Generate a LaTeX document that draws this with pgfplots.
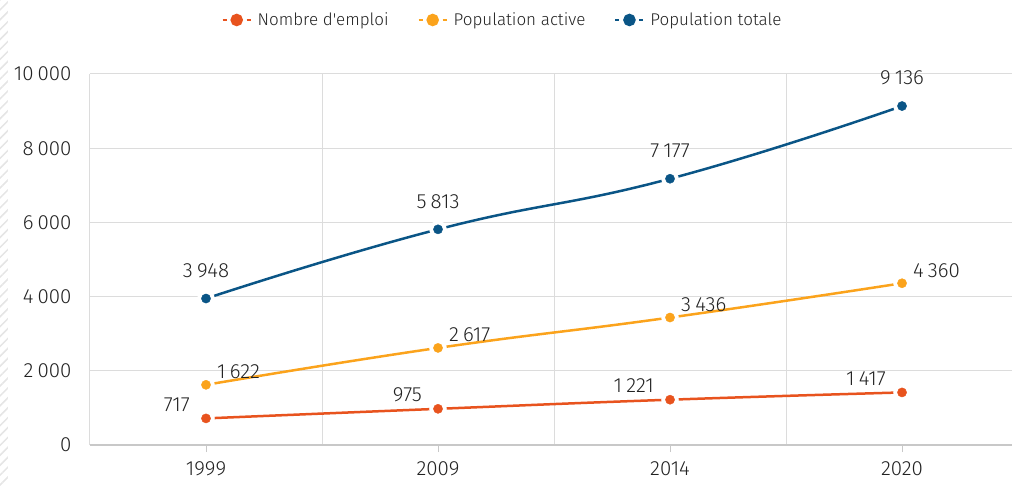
\documentclass[border=0pt]{standalone}
\usepackage{fontspec}
\setmainfont{Fira Sans Light}
\newfontfamily\plainfont{Fira Sans Light}[Ligatures=TeXOff]
\usepackage{pgfplots}
\usepackage{pgfplotstable}
\pgfplotsset{compat=1.18}
\usetikzlibrary{patterns.meta}
\definecolor{cEmp}{HTML}{E8531E}
\definecolor{cAct}{HTML}{FBA31C}
\definecolor{cTot}{HTML}{0A5586}
\definecolor{cGrid}{HTML}{DCDCDC}
\definecolor{cAxis}{HTML}{C8C8C8}
\definecolor{cText}{HTML}{222222}
\pgfplotstableread{
x emp act tot
0 717 1622 3948
1 975 2617 5813
2 1221 3436 7177
3 1417 4360 9136
}\datatab
\begin{document}
\begin{tikzpicture}
\useasboundingbox (-90pt,-40pt) rectangle (922pt,445pt);
\fill[pattern={Lines[angle=45,distance=7pt,line width=1.5pt]},pattern color=black!10] (-90pt,-40pt) rectangle (-82pt,445pt);
\begin{axis}[
  at={(0,0)}, anchor=south west,
  scale only axis, width=922pt, height=371pt,
  xmin=-0.5, xmax=3.474, ymin=0, ymax=10000,
  axis x line=bottom, axis y line=left,
  x axis line style={draw=cAxis, line width=1.2pt, -},
  y axis line style={draw=none, -},
  xtick={0,1,2,3}, xticklabels={1999,2009,2014,2020},
  minor xtick={-0.5,0.5,1.5,2.5},
  xminorgrids, minor grid style={draw=cGrid, line width=1pt},
  ytick={0,2000,4000,6000,8000,10000},
  scaled y ticks=false,
  ymajorgrids, major grid style={draw=cGrid, line width=1pt},
  tick align=outside,
  major tick length=7pt, minor tick length=0pt,
  xtick style={draw=cAxis, line width=1pt},
  ytick style={draw=none},
  /pgf/number format/assume math mode=true,
  /pgf/number format/1000 sep={\hspace{0.2em}},
  tick label style={font=\fontsize{20.5}{22}\selectfont, text=cText},
  xticklabel style={yshift=-6pt},
  yticklabel style={xshift=-8pt},
  yticklabel={\pgfmathprintnumber[assume math mode=true]{\tick}},
  clip=false,
  legend style={at={(0.4475,1.1456)}, anchor=center, draw=none, fill=none,
    font=\fontsize{17}{19}\selectfont, text=cText,
    legend columns=3,
    /tikz/every odd column/.append style={column sep=4pt},
    /tikz/every even column/.append style={column sep=27pt}},
  legend image code/.code={
    \draw[#1, mark=none, line width=2pt] (0pt,0pt) -- (4pt,0pt);
    \draw[#1, mark=none, line width=2pt] (24pt,0pt) -- (28pt,0pt);
    \fill[#1] (14pt,0pt) circle (5pt);
  },
  lineplot/.style={line width=2.5pt, smooth, tension=0.8, mark=none},
  halo/.style={white, only marks, mark=*, mark size=8.5pt, mark options={fill=white, draw=none}, forget plot},
  dots/.style={#1, only marks, mark=*, mark size=4.6pt, mark options={fill=#1, draw=none}, forget plot,
    nodes near coords={\pgfmathprintnumber[assume math mode=true]{\pgfplotspointmeta}},
    every node near coord/.append style={font=\fontsize{20.5}{22}\selectfont, text=cText, inner sep=0pt}},
]
\addplot[cEmp, lineplot] table[x=x, y=emp] {\datatab};
\addlegendentry{{\plainfont Nombre d'emploi}}
\addplot[cAct, lineplot] table[x=x, y=act] {\datatab};
\addlegendentry{Population active}
\addplot[cTot, lineplot] table[x=x, y=tot] {\datatab};
\addlegendentry{Population totale}
\addplot[halo] table[x=x, y=emp] {\datatab};
\addplot[halo] table[x=x, y=act] {\datatab};
\addplot[halo] table[x=x, y=tot] {\datatab};
\addplot[dots=cEmp,
  every node near coord/.append style={anchor=east, xshift=-16pt, yshift=14pt}]
  table[x=x, y=emp] {\datatab};
\addplot[dots=cAct,
  every node near coord/.append style={anchor=west, xshift=11pt, yshift=13pt}]
  table[x=x, y=act] {\datatab};
\addplot[dots=cTot,
  every node near coord/.append style={anchor=center, xshift=0pt, yshift=28pt}]
  table[x=x, y=tot] {\datatab};
\end{axis}
\end{tikzpicture}
\end{document}
